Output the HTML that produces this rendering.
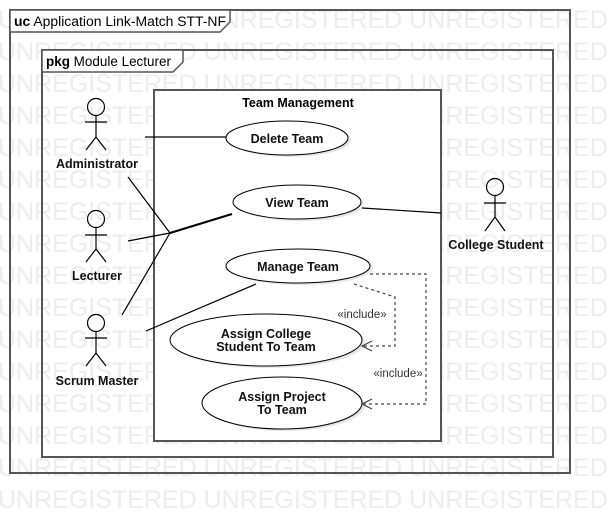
<!DOCTYPE html>
<html><head><meta charset="utf-8"><style>
html,body{margin:0;padding:0;background:#fff;}
svg{display:block;font-family:"Liberation Sans",Arial,sans-serif;}
</style></head><body>
<svg width="610" height="514" viewBox="0 0 610 514" xmlns="http://www.w3.org/2000/svg">
<g fill="#ededed" font-size="25" font-family="Liberation Sans, sans-serif">
<text x="-2" y="28">UNREGISTERED UNREGISTERED UNREGISTERED</text>
<text x="-2" y="60">UNREGISTERED UNREGISTERED UNREGISTERED</text>
<text x="-2" y="92">UNREGISTERED UNREGISTERED UNREGISTERED</text>
<text x="-2" y="124">UNREGISTERED UNREGISTERED UNREGISTERED</text>
<text x="-2" y="156">UNREGISTERED UNREGISTERED UNREGISTERED</text>
<text x="-2" y="188">UNREGISTERED UNREGISTERED UNREGISTERED</text>
<text x="-2" y="220">UNREGISTERED UNREGISTERED UNREGISTERED</text>
<text x="-2" y="252">UNREGISTERED UNREGISTERED UNREGISTERED</text>
<text x="-2" y="284">UNREGISTERED UNREGISTERED UNREGISTERED</text>
<text x="-2" y="316">UNREGISTERED UNREGISTERED UNREGISTERED</text>
<text x="-2" y="348">UNREGISTERED UNREGISTERED UNREGISTERED</text>
<text x="-2" y="380">UNREGISTERED UNREGISTERED UNREGISTERED</text>
<text x="-2" y="412">UNREGISTERED UNREGISTERED UNREGISTERED</text>
<text x="-2" y="444">UNREGISTERED UNREGISTERED UNREGISTERED</text>
<text x="-2" y="476">UNREGISTERED UNREGISTERED UNREGISTERED</text>
<text x="-2" y="508">UNREGISTERED UNREGISTERED UNREGISTERED</text>
</g>
<g fill="none" stroke="#555" stroke-width="2">
<rect x="10" y="10" width="560" height="463"/>
<rect x="42" y="50" width="511" height="407"/>
</g>
<path d="M10 10 H230 V22 L220 32 H10 Z" fill="#fff" stroke="#555" stroke-width="1.5"/>
<path d="M42 50 H183 V62 L173 72 H42 Z" fill="#fff" stroke="#555" stroke-width="1.5"/>
<text x="14" y="26" font-size="13.5" textLength="212" lengthAdjust="spacingAndGlyphs"><tspan font-weight="bold">uc</tspan> Application Link-Match STT-NF</text>
<text x="46" y="66" font-size="13.5" textLength="125" lengthAdjust="spacingAndGlyphs"><tspan font-weight="bold">pkg</tspan> Module Lecturer</text>
<rect x="154" y="90" width="287" height="351" fill="#fff" stroke="#555" stroke-width="2"/>
<text x="298" y="107" font-size="12.5" font-weight="bold" text-anchor="middle">Team Management</text>
<g fill="#fff" stroke="#000" stroke-width="1">
<ellipse cx="290" cy="140" rx="61" ry="17" fill="#e6e6e6" stroke="none"/>
<ellipse cx="287" cy="138" rx="61" ry="17"/>
<ellipse cx="300" cy="204" rx="64" ry="17" fill="#e6e6e6" stroke="none"/>
<ellipse cx="297" cy="202" rx="64" ry="17"/>
<ellipse cx="301" cy="268" rx="72" ry="17" fill="#e6e6e6" stroke="none"/>
<ellipse cx="298" cy="266" rx="72" ry="17"/>
<ellipse cx="269" cy="342" rx="96" ry="26" fill="#e6e6e6" stroke="none"/>
<ellipse cx="266" cy="340" rx="96" ry="26"/>
<ellipse cx="285" cy="405" rx="80" ry="26" fill="#e6e6e6" stroke="none"/>
<ellipse cx="282" cy="403" rx="80" ry="26"/>
</g>
<g font-size="12.5" font-weight="bold" text-anchor="middle" fill="#111">
<text x="287" y="143">Delete Team</text>
<text x="297" y="207">View Team</text>
<text x="298" y="271">Manage Team</text>
<text x="266" y="338">Assign College</text>
<text x="266" y="351">Student To Team</text>
<text x="282" y="401">Assign Project</text>
<text x="282" y="414">To Team</text>
</g>
<g stroke="#000" stroke-width="1.2" fill="none">
<circle cx="96" cy="107" r="8.5"/><path d="M96 115.5 V137 M85 122 H107 M86 150 L96 137 L106 150"/>
<circle cx="96" cy="219" r="8.5"/><path d="M96 227.5 V249 M85 235 H107 M86 262 L96 249 L106 262"/>
<circle cx="96" cy="323" r="8.5"/><path d="M96 331.5 V353 M85 338 H107 M86 366 L96 353 L106 366"/>
<circle cx="495" cy="187" r="8.5"/><path d="M495 195.5 V217 M484 203 H506 M485 231 L495 217 L505 231"/>
<path d="M145 137 H226"/>
<path d="M128 177 L170 233 M128 241 L170 233 M122 315 L170 233"/>
<path d="M170 233 L232 214" stroke-width="2.2"/>
<path d="M146 331 L256 284"/>
<path d="M362 208 L441 213"/>
</g>
<g stroke="#444" stroke-width="1.2" fill="none" stroke-dasharray="3,3">
<path d="M354 284 L395 297 V346 H364"/>
<path d="M370 274 H426 V404 H364"/>
</g>
<g stroke="#444" stroke-width="1.2" fill="none">
<path d="M372 341 L362 346 L372 351"/>
<path d="M372 399 L362 404 L372 409"/>
</g>
<g font-size="11.5" fill="#333" text-anchor="middle">
<text x="362" y="318">«include»</text>
<text x="398" y="377">«include»</text>
</g>
<g font-size="12.5" font-weight="bold" text-anchor="middle" fill="#111">
<text x="97" y="168">Administrator</text>
<text x="97" y="280">Lecturer</text>
<text x="97" y="385">Scrum Master</text>
<text x="496" y="249">College Student</text>
</g>
</svg>
</body></html>
